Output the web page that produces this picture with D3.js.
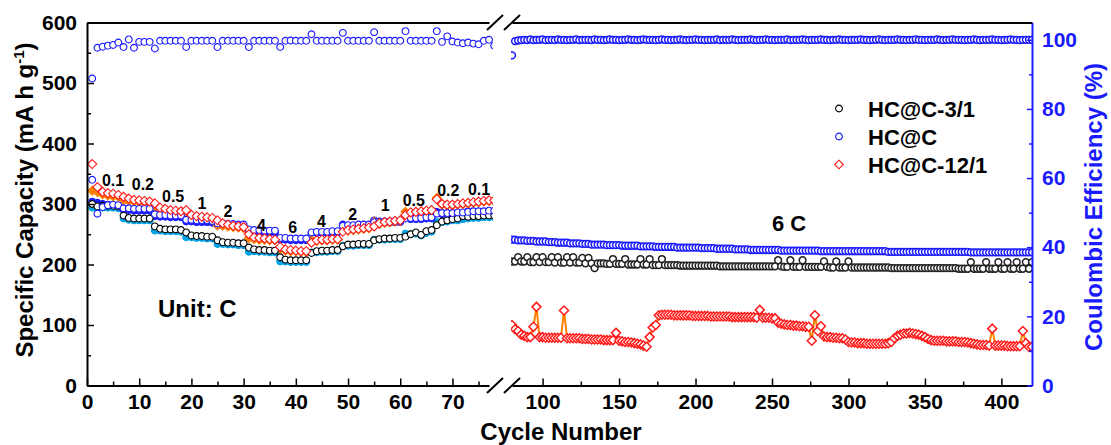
<!DOCTYPE html>
<html>
<head>
<meta charset="utf-8">
<script src="https://cdn.jsdelivr.net/npm/d3@7"></script>
<style>
  body { margin: 0; background: #fff; }
  svg { display: block; font-family: Arial, 'Liberation Sans', sans-serif; font-weight: bold; }
</style>
</head>
<body>
<svg id="chart" width="1111" height="445"></svg>
<script>
// ---- data ----
const leftCycles = d3.range(1, 79)
const rightCycles = d3.range(80, 421, 2)

const ceLeft = [88.8, 97.7, 98.0, 98.3, 98.5, 99.2, 97.9, 100.1, 97.7, 99.4, 99.4, 99.4,
  97.5, 99.7, 99.7, 99.7, 99.7, 99.7,
  97.9, 99.7, 99.7, 99.7, 99.7, 99.7,
  97.9, 99.7, 99.7, 99.7, 99.7, 99.7,
  97.9, 99.7, 99.7, 99.7, 99.7, 99.7,
  97.9, 99.7, 99.8, 99.7, 99.7, 99.7,
  101.6, 99.7, 99.7, 99.7, 99.7, 99.7,
  102.0, 99.7, 99.7, 99.7, 99.7, 99.7,
  102.2, 99.7, 99.7, 99.7, 99.7, 99.7,
  102.5, 99.7, 99.7, 99.7, 99.7, 99.7,
  102.5, 99.4, 101.0, 99.5, 99.2, 99.0,
  99.2, 98.9, 98.7, 99.7, 100.0, 98.3]

const c31Left = [300, 296, 297, 297, 297, 296, 281, 277, 276, 276, 276, 276,
  263, 259, 258, 258, 258, 257, 253, 248, 247, 247, 246, 246,
  240, 237, 236, 236, 235, 235, 228, 225, 224, 224, 223, 223,
  212, 208, 207, 207, 207, 207, 219, 222, 223, 223, 224, 224,
  230, 233, 233, 234, 234, 234, 240, 242, 243, 243, 244, 244,
  246, 250, 253, 249, 255, 257, 265, 271, 273, 275, 276, 280,
  279, 280, 280, 281, 281, 281]
const c31LeftCharge = [294, 293, 294, 294, 294, 293, 276, 274, 273, 273, 273, 273,
  256, 256, 255, 255, 255, 254, 245, 245, 244, 244, 243, 243,
  234, 234, 233, 233, 232, 232, 221, 222, 221, 221, 220, 220,
  205, 205, 204, 204, 204, 204, 220, 220, 221, 221, 222, 222,
  231, 231, 231, 232, 232, 232, 241, 241, 241, 242, 242, 242,
  251, 250, 251, 248, 252, 254, 270, 270, 271, 273, 273, 275,
  276, 277, 277, 278, 278, 278]

const hcLeft = [340, 284, 295, 298, 299, 298, 293, 293, 292, 292, 292, 292,
  283, 282, 282, 281, 281, 281, 274, 274, 273, 273, 273, 272,
  268, 268, 267, 267, 266, 266, 258, 257, 257, 256, 256, 256,
  244, 244, 243, 243, 243, 243, 253, 254, 254, 254, 255, 255,
  264, 265, 265, 266, 266, 266, 270, 271, 271, 271, 272, 272,
  276, 277, 277, 277, 278, 278, 284, 285, 285, 285, 286, 286,
  287, 288, 288, 288, 289, 289]
const hcLeftCharge = [304, 302, 300, 299, 298, 297, 290, 290, 289, 289, 289, 289,
  280, 279, 279, 278, 278, 278, 271, 271, 270, 270, 270, 269,
  265, 265, 264, 264, 263, 263, 255, 254, 254, 253, 253, 253,
  241, 241, 240, 240, 240, 240, 252, 252, 252, 252, 253, 253,
  266, 263, 263, 264, 264, 264, 273, 269, 269, 269, 270, 270,
  279, 275, 275, 275, 276, 276, 287, 283, 283, 283, 284, 284,
  288, 286, 286, 286, 287, 287]

const c121Left = [366, 328, 320, 318, 317, 315, 312, 309, 307, 306, 305, 304,
  301, 294, 292, 290, 289, 288, 290, 282, 280, 279, 278, 277,
  273, 268, 266, 264, 263, 262, 250, 245, 244, 243, 242, 241,
  229, 225, 224, 223, 222, 222, 236, 240, 241, 241, 242, 242,
  254, 257, 258, 259, 260, 261, 263, 268, 270, 271, 272, 273,
  282, 286, 287, 288, 289, 290, 308, 300, 299, 299, 300, 301,
  302, 303, 304, 305, 306, 306]
const c121LeftCharge = [322, 320, 316, 314, 313, 312, 306, 305, 304, 303, 302, 302,
  290, 289, 288, 287, 286, 286, 277, 277, 276, 275, 275, 274,
  265, 264, 263, 262, 261, 260, 244, 242, 241, 241, 240, 240,
  226, 223, 222, 222, 221, 221, 240, 239, 240, 240, 241, 241,
  258, 256, 257, 258, 259, 260, 271, 267, 269, 270, 271, 272,
  287, 285, 286, 287, 288, 289, 310, 299, 298, 298, 299, 300,
  301, 302, 303, 304, 305, 305]

const ceRight = [95.5, 99.6, 99.8, 99.9, 100.0, 99.9, 100.1, 99.9, 100.0, 100.0,
  100.1, 99.9, 100.0, 100.0, 99.9, 100.1, 100.0, 100.0, 99.9, 100.0,
  100.0, 100.1, 99.9, 100.0, 100.0, 100.0, 99.9, 100.1, 100.0, 100.0,
  99.9, 100.0, 100.1, 100.0, 100.0, 99.9, 100.0, 100.0, 100.1, 100.0,
  100.0, 99.9, 100.0, 100.1, 100.0, 100.0, 100.0, 99.9, 100.0, 100.1,
  100.0, 100.0, 99.9, 100.0, 100.0, 100.1, 100.0, 99.9, 100.0, 100.0,
  100.1, 100.0, 100.0, 99.9, 100.0, 100.0, 100.0, 100.1, 99.9, 100.0,
  100.0, 100.0, 100.1, 100.0, 99.9, 100.0, 100.0, 100.0, 100.1, 100.0,
  99.9, 100.0, 100.0, 100.1, 100.0, 100.0, 99.9, 100.0, 100.0, 100.0,
  100.1, 99.9, 100.0, 100.0, 100.0, 100.1, 100.0, 99.9, 100.0, 100.0,
  100.0, 100.1, 100.0, 100.0, 99.9, 100.0, 100.0, 100.1, 100.0, 100.0,
  99.9, 100.0, 100.0, 100.0, 100.1, 100.0, 100.0, 99.9, 100.0, 100.0,
  100.1, 100.0, 99.9, 100.0, 100.0, 100.0, 100.1, 100.0, 100.0, 99.9,
  100.0, 100.0, 100.1, 100.0, 100.0, 99.9, 100.0, 100.0, 100.0, 100.1,
  100.0, 99.9, 100.0, 100.0, 100.1, 100.0, 100.0, 100.0, 99.9, 100.0,
  100.0, 100.1, 100.0, 99.9, 100.0, 100.0, 100.0, 100.1, 100.0, 100.0,
  99.9, 100.0, 100.0, 100.1, 100.0, 100.0, 99.9, 100.0, 100.0, 100.0,
  100.0]

const hcRight = [241, 241, 240, 240, 240, 239, 239, 239, 238, 238,
  238, 238, 237, 237, 237, 236, 236, 236, 236, 235,
  235, 235, 235, 234, 234, 234, 233, 233, 233, 233,
  233, 232, 232, 232, 232, 232, 231, 231, 231, 231,
  231, 231, 230, 230, 230, 230, 230, 229, 229, 229,
  229, 229, 229, 229, 228, 228, 228, 228, 228, 228,
  228, 228, 227, 227, 227, 227, 227, 226, 226, 226,
  226, 226, 226, 225, 225, 225, 225, 225, 224, 224,
  224, 224, 224, 224, 224, 224, 224, 224, 223, 223,
  223, 223, 223, 223, 223, 223, 223, 223, 223, 223,
  223, 222, 222, 222, 222, 222, 222, 222, 222, 222,
  222, 222, 222, 222, 222, 222, 222, 222, 222, 222,
  222, 222, 222, 221, 221, 221, 221, 221, 221, 221,
  221, 221, 221, 221, 221, 221, 221, 221, 221, 221,
  221, 221, 221, 221, 221, 221, 221, 221, 221, 221,
  220, 220, 220, 220, 220, 220, 220, 220, 220, 220,
  220, 220, 220, 220, 220, 220, 220, 220, 220, 220,
  220]

const c31Right = [205, 205, 212, 205, 205, 212, 204, 204, 212, 204,
  212, 204, 204, 212, 203, 212, 203, 203, 212, 203,
  212, 203, 203, 211, 202, 211, 202, 194, 202, 202,
  202, 201, 201, 209, 201, 201, 201, 209, 200, 200,
  200, 200, 209, 200, 200, 209, 199, 199, 199, 209,
  199, 199, 199, 199, 199, 198, 198, 198, 198, 198,
  198, 198, 198, 198, 198, 198, 198, 198, 197, 197,
  197, 197, 197, 197, 197, 197, 197, 197, 197, 197,
  197, 197, 197, 197, 197, 197, 197, 207, 197, 196,
  196, 207, 196, 196, 196, 207, 196, 196, 196, 196,
  196, 196, 205, 196, 195, 195, 205, 195, 195, 195,
  205, 195, 195, 195, 195, 195, 195, 195, 195, 195,
  195, 195, 195, 195, 194, 194, 194, 194, 194, 194,
  194, 194, 194, 194, 194, 194, 194, 194, 194, 194,
  194, 194, 194, 194, 194, 194, 193, 193, 193, 193,
  204, 193, 193, 193, 193, 204, 193, 193, 193, 204,
  193, 193, 204, 193, 193, 204, 193, 193, 204, 193,
  204]

const c121Right = [100, 93, 90, 84, 82, 80, 80, 97, 130, 80,
  80, 79, 79, 79, 79, 79, 79, 124, 78, 78,
  78, 78, 78, 77, 77, 77, 76, 76, 76, 76,
  75, 75, 75, 75, 87, 74, 73, 72, 72, 71,
  70, 69, 68, 66, 64, 80, 96, 100, 116, 117,
  117, 117, 117, 116, 116, 116, 116, 116, 116, 115,
  115, 115, 115, 115, 115, 114, 114, 114, 114, 114,
  114, 114, 113, 113, 113, 113, 113, 113, 113, 113,
  112, 125, 112, 112, 112, 111, 111, 104, 102, 101,
  100, 100, 99, 99, 98, 98, 97, 97, 74, 116,
  90, 98, 81, 80, 80, 79, 79, 78, 78, 76,
  72, 71, 71, 70, 70, 70, 69, 69, 69, 69,
  69, 69, 69, 70, 72, 78, 82, 84, 86, 86,
  87, 86, 85, 84, 82, 80, 77, 75, 74, 74,
  74, 74, 73, 73, 73, 73, 72, 72, 72, 71,
  70, 69, 68, 67, 67, 67, 66, 94, 66, 66,
  66, 66, 65, 65, 65, 65, 65, 90, 70, 64,
  64]

const rateText = ['0.1', '0.2', '0.5', '1', '2', '4', '6', '4', '2', '1', '0.5', '0.2', '0.1']
const rateCycle = [5.0, 10.7, 16.5, 22.0, 27.0, 33.4, 39.4, 44.9, 50.9, 57.1, 62.6, 69.2, 75.1]
const rateCap = [330, 323, 303, 291, 279, 255, 252, 262, 273, 288, 297, 314, 315]

const legendNames = ['HC@C-3/1', 'HC@C', 'HC@C-12/1']
const legendColors = ['#000000', '#1a1aff', '#ff1a1a']
const legendShapes = ['circle', 'circle', 'diamond']

// ---- chart ----
const BLUE = '#1a1aff', BLACK = '#000000', RED = '#ff1a1a', CYAN = '#00a2e8', ORANGE = '#ff8000'
const FONT = "Arial, 'Liberation Sans', sans-serif"

let svg = d3.select('#chart')
let xL = d3.scaleLinear().domain([0, 77]).range([87, 489])
let xR = d3.scaleLinear().domain([80, 420]).range([512, 1032])
let y = d3.scaleLinear().domain([0, 600]).range([385.5, 22.5])
let yCE = d3.scaleLinear().domain([0, 105]).range([385.5, 22.5])

svg.append('rect').attr('width', 1111).attr('height', 445).attr('fill', '#fff')

let defs = svg.append('defs')
defs.append('clipPath').attr('id', 'clipL')
    .append('rect').attr('x', 80).attr('y', 0).attr('width', 413).attr('height', 445)
defs.append('clipPath').attr('id', 'clipR')
    .append('rect').attr('x', 511).attr('y', 0).attr('width', 521).attr('height', 445)

function diamond(r){
  return 'M0,' + (-r) + 'L' + r + ',0L0,' + r + 'L' + (-r) + ',0Z'
}
let circlePath = d3.symbol(d3.symbolCircle, Math.PI * 3.4 * 3.4)()

function addSeries(g, x, scale, cycles, vals, shape, stroke, fill, sw){
  g.append('g').selectAll('path')
    .data(vals)
    .enter()
    .append('path')
    .attr('transform', function(d, i){ return 'translate(' + x(cycles[i]) + ',' + scale(d) + ')' })
    .attr('d', shape === 'diamond' ? diamond(4.5) : circlePath)
    .attr('fill', fill)
    .attr('stroke', stroke)
    .attr('stroke-width', sw || 1.1)
}

// left panel
let left = svg.append('g').attr('clip-path', 'url(#clipL)')
addSeries(left, xL, yCE, leftCycles, ceLeft, 'circle', BLUE, '#fff')
addSeries(left, xL, y, leftCycles, c31LeftCharge, 'circle', CYAN, CYAN)
addSeries(left, xL, y, leftCycles, hcLeftCharge, 'circle', BLUE, BLUE)
addSeries(left, xL, y, leftCycles, c121LeftCharge, 'diamond', ORANGE, ORANGE)
addSeries(left, xL, y, leftCycles, c31Left, 'circle', BLACK, '#fff')
addSeries(left, xL, y, leftCycles, hcLeft, 'circle', BLUE, '#fff')
addSeries(left, xL, y, leftCycles, c121Left, 'diamond', RED, '#fff')

// right panel
let right = svg.append('g').attr('clip-path', 'url(#clipR)')
right.append('path')
    .datum(c121Right)
    .attr('fill', 'none')
    .attr('stroke', ORANGE)
    .attr('stroke-width', 2)
    .attr('d', d3.line().x(function(d, i){ return xR(rightCycles[i]) }).y(function(d){ return y(d) }))
addSeries(right, xR, yCE, rightCycles, ceRight, 'circle', BLUE, '#fff', 1.5)
addSeries(right, xR, y, rightCycles, hcRight, 'circle', BLUE, '#fff', 1.5)
addSeries(right, xR, y, rightCycles, c31Right, 'circle', '#222', '#fff', 1.5)
addSeries(right, xR, y, rightCycles, c121Right, 'diamond', RED, '#fff', 1.5)

// axes
function styleAxis(g, color){
  g.attr('font-family', FONT).attr('font-size', 21).attr('font-weight', 'bold')
  g.select('.domain').attr('stroke', color).attr('stroke-width', 2)
  g.selectAll('.tick line').attr('stroke', color).attr('stroke-width', 1.5)
  g.selectAll('.tick text').attr('fill', color)
}
function minor(g, color){
  g.select('.domain').remove()
  g.selectAll('.tick line').attr('stroke', color).attr('stroke-width', 1.5)
}

let bottomY = y(0), topY = y(600)

svg.append('g').attr('transform', 'translate(0,' + bottomY + ')')
   .call(d3.axisBottom(xL).tickValues(d3.range(5, 76, 10)).tickSize(-4).tickSizeOuter(0).tickFormat(''))
   .call(minor, BLACK)
svg.append('g').attr('transform', 'translate(0,' + bottomY + ')')
   .call(d3.axisBottom(xL).tickValues(d3.range(0, 71, 10)).tickSize(-7).tickSizeOuter(0).tickPadding(9))
   .call(styleAxis, BLACK)
svg.append('g').attr('transform', 'translate(0,' + bottomY + ')')
   .call(d3.axisBottom(xR).tickValues(d3.range(125, 376, 50)).tickSize(-4).tickSizeOuter(0).tickFormat(''))
   .call(minor, BLACK)
svg.append('g').attr('transform', 'translate(0,' + bottomY + ')')
   .call(d3.axisBottom(xR).tickValues(d3.range(100, 401, 50)).tickSize(-7).tickSizeOuter(0).tickPadding(9))
   .call(styleAxis, BLACK)

svg.append('g').attr('transform', 'translate(0,' + topY + ')')
   .call(d3.axisTop(xL).tickValues([]).tickSizeOuter(0))
   .call(styleAxis, BLACK)
svg.append('g').attr('transform', 'translate(0,' + topY + ')')
   .call(d3.axisTop(xR).tickValues([]).tickSizeOuter(0))
   .call(styleAxis, BLACK)

svg.append('g').attr('transform', 'translate(' + xL(0) + ',0)')
   .call(d3.axisLeft(y).tickValues(d3.range(50, 551, 100)).tickSize(-4).tickSizeOuter(0).tickFormat(''))
   .call(minor, BLACK)
svg.append('g').attr('transform', 'translate(' + xL(0) + ',0)')
   .call(d3.axisLeft(y).tickValues(d3.range(0, 601, 100)).tickSize(-7).tickSizeOuter(0).tickPadding(10))
   .call(styleAxis, BLACK)

svg.append('g').attr('transform', 'translate(' + xR(420) + ',0)')
   .call(d3.axisRight(yCE).tickValues(d3.range(10, 91, 20)).tickSize(-3).tickSizeOuter(0).tickFormat(''))
   .call(minor, BLUE)
svg.append('g').attr('transform', 'translate(' + xR(420) + ',0)')
   .call(d3.axisRight(yCE).tickValues(d3.range(0, 101, 20)).tickSize(-5).tickSizeOuter(0).tickPadding(10))
   .call(styleAxis, BLUE)

// break marks
let breaks = svg.append('g').attr('stroke', BLACK).attr('stroke-width', 2)
;[xL(77) + 6, xR(80)].forEach(function(bx){
  ;[topY, bottomY].forEach(function(by){
    breaks.append('line')
      .attr('x1', bx - 8).attr('y1', by + 7.5)
      .attr('x2', bx + 8).attr('y2', by - 7.5)
  })
})

// titles
let yTitle = svg.append('text')
    .attr('transform', 'translate(33,200) rotate(-90)')
    .attr('text-anchor', 'middle')
    .attr('font-family', FONT).attr('font-size', 24).attr('font-weight', 'bold')
yTitle.append('tspan').text('Specific Capacity (mA h g')
yTitle.append('tspan').attr('dy', -9).attr('font-size', 15).text('-1')
yTitle.append('tspan').attr('dy', 9).text(')')

svg.append('text')
    .attr('transform', 'translate(1102,207) rotate(-90)')
    .attr('text-anchor', 'middle')
    .attr('fill', BLUE)
    .attr('font-family', FONT).attr('font-size', 24).attr('font-weight', 'bold')
    .text('Coulombic Efficiency (%)')

svg.append('text')
    .attr('x', 561).attr('y', 440)
    .attr('text-anchor', 'middle')
    .attr('font-family', FONT).attr('font-size', 24).attr('font-weight', 'bold')
    .text('Cycle Number')

// annotations
svg.append('g').selectAll('text')
    .data(rateText)
    .enter()
    .append('text')
    .attr('x', function(d, i){ return xL(rateCycle[i]) })
    .attr('y', function(d, i){ return y(rateCap[i]) })
    .attr('text-anchor', 'middle')
    .attr('font-family', FONT).attr('font-size', 16).attr('font-weight', 'bold')
    .text(function(d){ return d })

svg.append('text')
    .attr('x', 158).attr('y', 317)
    .attr('font-family', FONT).attr('font-size', 24).attr('font-weight', 'bold')
    .text('Unit: C')

svg.append('text')
    .attr('x', 772).attr('y', 231)
    .attr('font-family', FONT).attr('font-size', 22).attr('font-weight', 'bold')
    .text('6 C')

// legend
let legend = svg.append('g').attr('transform', 'translate(839,108.5)')
legendNames.forEach(function(name, i){
  let row = legend.append('g').attr('transform', 'translate(0,' + (i * 28) + ')')
  row.append('path')
     .attr('d', legendShapes[i] === 'diamond' ? diamond(4.3) : circlePath)
     .attr('fill', '#fff')
     .attr('stroke', legendColors[i])
     .attr('stroke-width', 1.1)
  row.append('text')
     .attr('x', 29).attr('y', 8)
     .attr('font-family', FONT).attr('font-size', 22).attr('font-weight', 'bold')
     .text(name)
})
</script>
</body>
</html>
